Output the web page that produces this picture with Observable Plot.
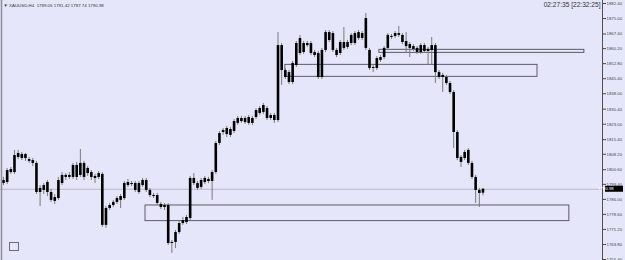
<!DOCTYPE html>
<html>
<head>
<meta charset="utf-8">
<script src="https://cdn.jsdelivr.net/npm/d3@7"></script>
<script src="https://cdn.jsdelivr.net/npm/@observablehq/plot@0.6"></script>
<style>
  html, body { margin: 0; padding: 0; background: #e6e6fa; overflow: hidden; }
  #chart svg { display: block; }
</style>
</head>
<body>
<div id="chart"></div>
<script>
// ---- data (XAUUSD, H4) ----
const symbolLine = "▼ XAUUSD,H4  1789.05 1791.42 1787.74 1790.98";
const clockText = "02:27:35 [22:32:25]";

const open = [1793.8,1794.3,1799.2,1799.2,1806.6,1808.1,1806.1,1805.6,1805.1,1803.7,
1789.4,1790.4,1794.3,1789.4,1785.0,1786.4,1793.8,1797.8,1796.8,1796.8,
1802.7,1797.8,1803.7,1798.7,1799.2,1797.3,1796.8,1798.3,1773.2,1781.5,
1783.0,1784.5,1785.5,1786.4,1792.8,1793.8,1793.8,1789.4,1792.8,1795.3,
1790.4,1787.9,1787.9,1783.5,1782.0,1783.0,1764.3,1764.8,1769.7,1774.1,
1774.6,1776.6,1796.3,1793.8,1791.9,1794.3,1795.8,1794.8,1799.2,1813.5,
1818.9,1820.9,1817.5,1819.4,1823.4,1825.8,1823.8,1826.3,1823.4,1826.3,
1828.3,1828.8,1830.7,1827.3,1827.3,1824.8,1861.7,1849.4,1848.4,1843.5,
1851.9,1857.8,1862.7,1861.7,1862.7,1858.3,1857.8,1846.0,1859.3,1868.1,
1867.6,1859.3,1857.8,1863.2,1860.8,1862.7,1867.6,1865.2,1867.6,1860.3,
1859.3,1850.4,1850.4,1854.4,1855.8,1860.3,1866.2,1866.2,1867.6,1866.7,
1863.7,1862.2,1861.2,1860.3,1858.3,1861.7,1858.8,1859.3,1861.7,1848.4,
1846.0,1846.0,1843.0,1838.6,1818.9,1806.6,1806.1,1810.1,1803.7,1796.8,
1790.4,1789.05];
const high = [1796.8,1801.2,1801.7,1810.1,1810.1,1809.1,1808.6,1806.6,1806.1,1804.7,
1792.8,1793.8,1795.3,1790.9,1788.4,1796.8,1799.2,1798.7,1799.2,1803.7,
1804.2,1810.6,1804.7,1802.2,1800.2,1798.3,1799.7,1799.2,1782.5,1784.0,
1785.5,1787.4,1788.4,1794.8,1795.8,1794.8,1794.8,1794.8,1796.3,1796.3,
1791.4,1788.9,1788.9,1784.5,1784.0,1784.0,1765.8,1770.7,1775.1,1777.1,
1778.1,1797.3,1798.7,1794.8,1796.3,1797.3,1796.8,1800.2,1814.5,1819.4,
1820.9,1821.9,1821.4,1825.3,1826.8,1826.8,1826.8,1827.3,1826.8,1830.7,
1831.7,1833.2,1831.7,1828.3,1828.3,1868.1,1862.7,1850.4,1849.4,1853.9,
1863.7,1866.7,1863.7,1863.7,1863.7,1859.3,1858.8,1860.3,1869.1,1869.1,
1868.6,1860.3,1864.2,1870.6,1864.2,1867.6,1868.6,1869.1,1868.6,1877.5,
1860.3,1851.9,1856.3,1856.8,1861.2,1867.6,1867.2,1868.6,1871.1,1867.6,
1868.1,1863.2,1862.2,1861.2,1862.7,1862.7,1860.8,1865.7,1862.7,1849.4,
1848.0,1847.0,1844.0,1839.6,1819.9,1807.6,1810.1,1811.0,1804.7,1797.8,
1791.4,1791.42];
const low = [1792.8,1793.3,1798.3,1798.3,1805.6,1805.1,1804.7,1803.7,1802.2,1788.4,
1782.5,1788.4,1787.4,1784.5,1783.5,1785.5,1792.8,1795.3,1795.8,1795.8,
1795.3,1796.8,1795.3,1797.3,1795.3,1793.8,1795.8,1772.2,1771.7,1780.5,
1782.0,1783.5,1781.5,1785.5,1791.9,1792.3,1789.4,1788.4,1791.9,1789.4,
1786.9,1786.4,1783.0,1781.0,1780.5,1763.3,1759.4,1761.8,1768.7,1773.2,
1773.6,1775.6,1792.8,1790.4,1790.9,1793.3,1793.8,1785.5,1798.3,1812.5,
1817.5,1816.5,1816.5,1818.4,1822.4,1823.4,1822.9,1822.4,1822.4,1825.3,
1827.3,1827.8,1824.8,1824.8,1823.4,1823.8,1842.1,1845.0,1842.5,1842.5,
1850.9,1856.8,1857.3,1860.8,1856.8,1855.8,1845.0,1845.0,1858.3,1863.2,
1858.3,1855.8,1856.8,1859.3,1859.8,1861.7,1861.7,1864.2,1864.2,1859.3,
1849.4,1848.4,1849.4,1853.4,1854.8,1859.3,1864.7,1865.2,1865.7,1862.2,
1857.8,1855.8,1858.8,1857.3,1857.3,1857.8,1851.9,1851.9,1843.0,1845.0,
1838.6,1842.1,1837.6,1811.0,1805.1,1801.7,1805.1,1802.7,1795.8,1784.0,
1782.0,1787.74];
const close = [1795.3,1800.2,1800.7,1807.6,1808.6,1806.1,1808.1,1804.7,1803.7,1789.4,
1791.4,1792.8,1789.4,1785.5,1786.9,1795.3,1797.8,1796.8,1797.8,1802.7,
1796.8,1803.7,1796.8,1801.2,1796.8,1796.3,1798.7,1773.2,1781.5,1783.0,
1784.5,1786.4,1787.4,1793.8,1794.3,1793.3,1790.4,1793.8,1795.3,1790.4,
1787.9,1787.4,1784.0,1782.0,1783.0,1764.3,1764.8,1769.7,1774.1,1775.6,
1777.1,1796.3,1793.8,1791.4,1795.3,1796.3,1794.8,1799.2,1813.5,1818.4,
1819.9,1817.9,1820.4,1824.3,1825.8,1824.3,1825.8,1823.4,1825.8,1829.7,
1830.7,1832.2,1825.8,1825.8,1824.8,1861.7,1849.4,1846.0,1843.5,1852.9,
1862.7,1865.2,1858.3,1862.7,1857.8,1856.8,1846.0,1859.3,1868.1,1864.2,
1859.3,1856.8,1863.2,1860.3,1863.2,1866.7,1862.7,1868.1,1865.2,1875.0,
1850.4,1850.9,1855.3,1855.8,1860.3,1866.7,1865.7,1867.6,1866.7,1863.2,
1861.2,1860.3,1859.8,1858.3,1861.7,1858.8,1859.8,1861.7,1848.4,1846.0,
1847.0,1843.0,1838.6,1818.9,1806.1,1804.2,1809.1,1803.7,1796.8,1790.4,
1788.9,1790.98];

// price axis labels as shown by the terminal
const priceTicks = [1882.40,1875.00,1867.40,1860.20,1852.80,1845.40,1838.00,1830.40,1823.00,
  1815.40,1808.20,1800.60,1793.40,1786.00,1778.60,1771.20,1763.80,1756.40];

// drawn zones (bar index from / to, upper / lower price)
const zoneStart  = [38.8, 77.0, 102.7];
const zoneEnd    = [154.6, 145.9, 158.7];
const zoneTop    = [1783.0, 1852.2, 1859.6];
const zoneBottom = [1775.3, 1846.3, 1858.1];

const lastClose = close[close.length - 1];

const candles = open.map((o, i) => ({i, open: o, high: high[i], low: low[i], close: close[i]}));
const zones = zoneStart.map((s, k) => ({x1: s, x2: zoneEnd[k], y1: zoneTop[k], y2: zoneBottom[k]}));

const chrome = (index, scales, values, dims) => {
  const g = d3.create("svg:g");
  const xr = dims.width - dims.marginRight;
  g.append("line").attr("x1", 1.5).attr("x2", 1.5).attr("y1", 0).attr("y2", dims.height)
    .attr("stroke", "#8c8c96").attr("stroke-width", 1.5);
  g.append("line").attr("x1", xr + 0.5).attr("x2", xr + 0.5).attr("y1", 0).attr("y2", dims.height)
    .attr("stroke", "#505050");
  const yy = scales.y(lastClose);
  g.append("rect").attr("x", xr + 3).attr("y", yy - 3).attr("width", 18).attr("height", 6).attr("fill", "#000");
  g.append("text").attr("x", xr + 4).attr("y", yy).attr("dy", "0.35em")
    .attr("fill", "#fff").attr("font-size", 4.3).text(lastClose.toFixed(2));
  g.append("rect").attr("x", 9.5).attr("y", 242.5).attr("width", 9).attr("height", 8)
    .attr("fill", "none").attr("stroke", "#6e6e78");
  return g.node();
};

const chart = Plot.plot({
  width: 625,
  height: 260,
  marginLeft: 0,
  marginRight: 23,
  marginTop: 0,
  marginBottom: 0,
  style: {background: "#e6e6fa", fontFamily: "Liberation Sans, Arial, sans-serif"},
  x: {domain: [-0.82, 163.66], axis: null},
  y: {domain: [1755.92, 1883.88]},
  marks: [
    Plot.rect(zones, {x1: "x1", x2: "x2", y1: "y1", y2: "y2", fill: "none", stroke: "#5c5c64", strokeWidth: 1}),
    Plot.ruleY([lastClose], {stroke: "#b8b8c4", strokeWidth: 1}),
    Plot.ruleX(candles, {x: "i", y1: "low", y2: "high", stroke: "#7a7a7a", strokeWidth: 1}),
    Plot.ruleX(candles, {x: "i", y1: "open", y2: "close", stroke: "#000", strokeWidth: 2.6}),
    Plot.axisY(priceTicks, {anchor: "right", tickSize: 3, tickPadding: 1, tickFormat: d => d.toFixed(2),
      fontSize: 4.3, color: "#444", label: null}),
    Plot.text([symbolLine], {frameAnchor: "top-left", dx: 3, dy: 3, fontSize: 4.4, fill: "#333", textAnchor: "start"}),
    Plot.text([clockText], {frameAnchor: "top-right", dx: -2, dy: 2, fontSize: 6.6, fill: "#333", textAnchor: "end"}),
    chrome
  ]
});
document.getElementById("chart").append(chart);
</script>
</body>
</html>
